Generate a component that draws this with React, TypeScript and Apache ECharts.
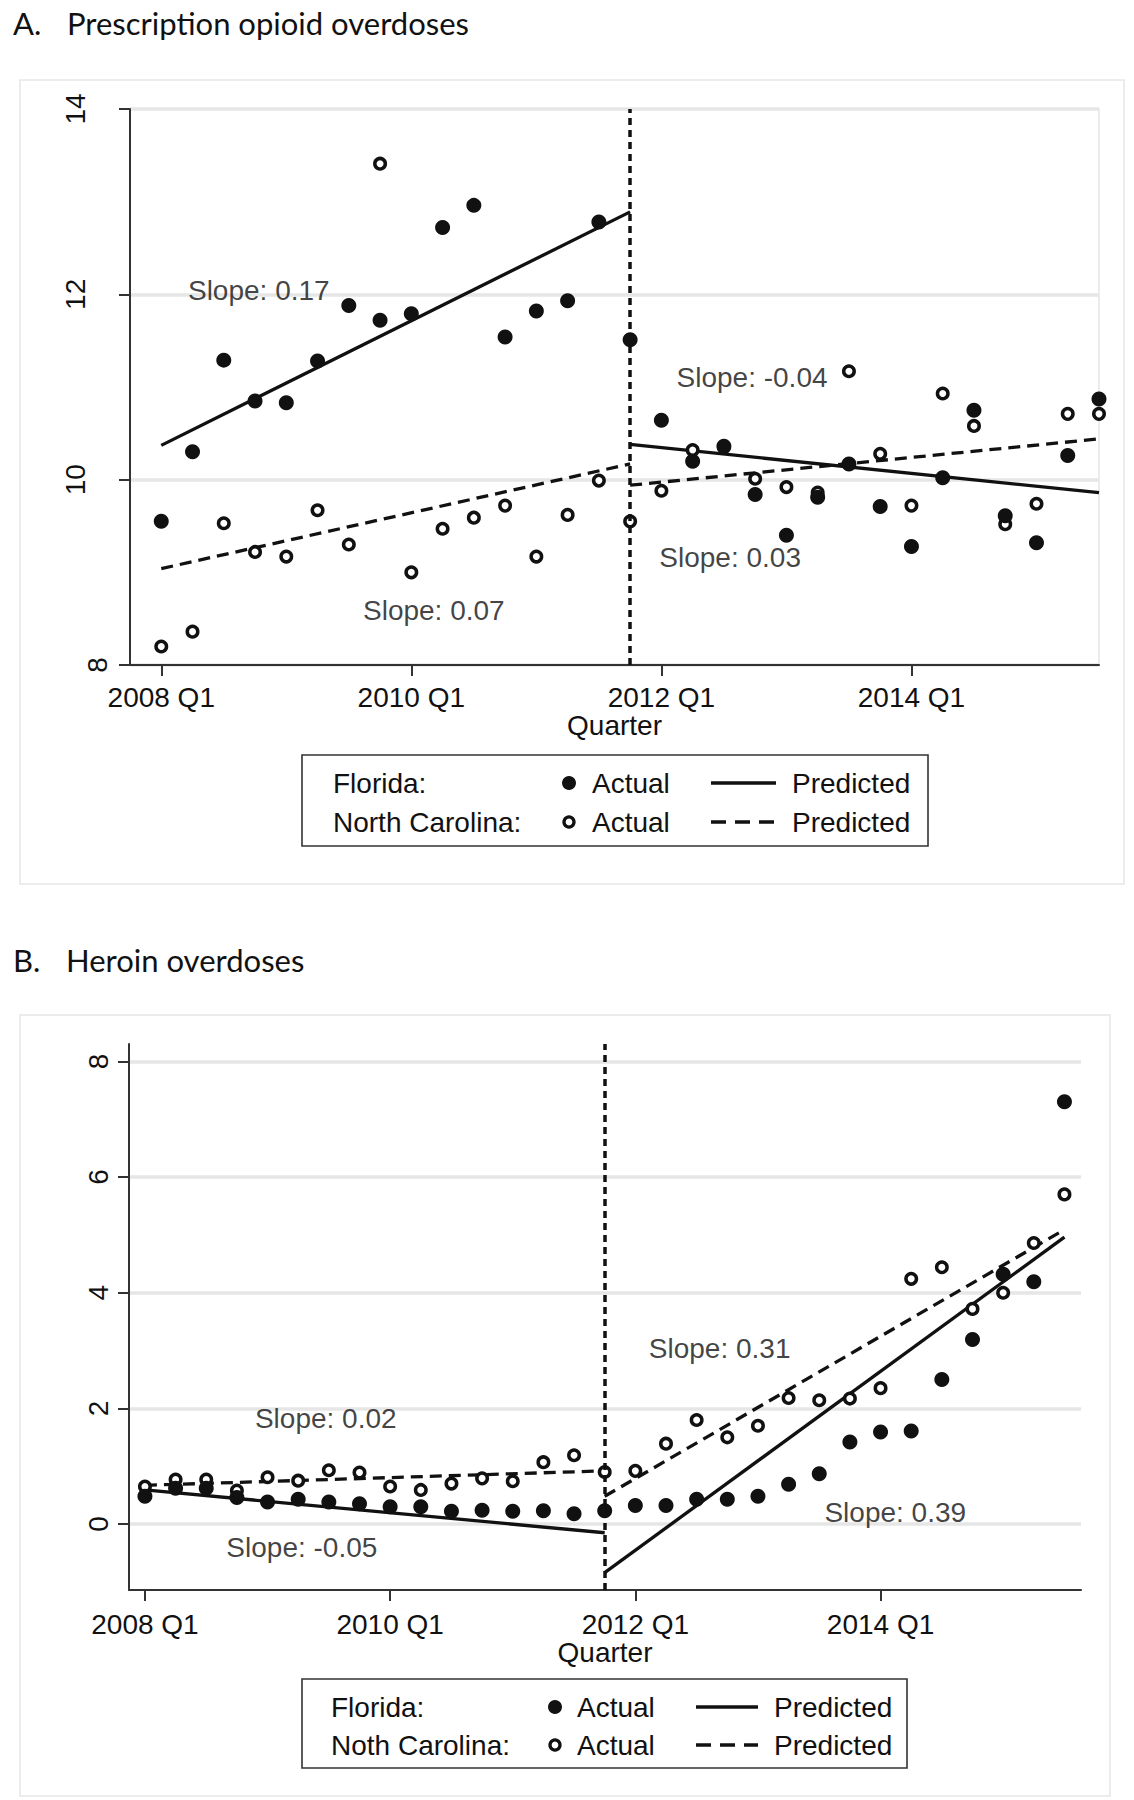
import React, { useEffect, useRef } from "react";
import * as echarts from "echarts";

const FONT = "Liberation Sans";
const TITLE_FONT = "Lato";
const INK = "#111111";
const FS = 28;

const quarters = [
  "2008 Q1", "2008 Q2", "2008 Q3", "2008 Q4",
  "2009 Q1", "2009 Q2", "2009 Q3", "2009 Q4",
  "2010 Q1", "2010 Q2", "2010 Q3", "2010 Q4",
  "2011 Q1", "2011 Q2", "2011 Q3", "2011 Q4",
  "2012 Q1", "2012 Q2", "2012 Q3", "2012 Q4",
  "2013 Q1", "2013 Q2", "2013 Q3", "2013 Q4",
  "2014 Q1", "2014 Q2", "2014 Q3", "2014 Q4",
  "2015 Q1", "2015 Q2", "2015 Q3",
];
const xTickValues = [0, 8, 16, 24];
const breakIndex = 15;
const preSegmentX = [0, 15];
const postSegmentX = [15, 30];

// Panel A: prescription opioid overdoses
const opioidYTicks = [8, 10, 12, 14];
const opioidFlorida = [9.55, 10.3, 11.29, 10.85, 10.83, 11.28, 11.88, 11.72, 11.79, 12.72, 12.96, 11.54, 11.82, 11.93, 12.78, 11.51, 10.64, 10.2, 10.36, 9.84, 9.4, 9.81, 10.17, 9.71, 9.28, 10.02, 10.75, 9.61, 9.32, 10.26, 10.87];
const opioidNC = [8.2, 8.36, 9.53, 9.22, 9.17, 9.67, 9.3, 13.41, 9.0, 9.47, 9.59, 9.72, 9.17, 9.62, 9.99, 9.55, 9.88, 10.32, 10.35, 10.01, 9.92, 9.86, 11.17, 10.28, 9.72, 10.93, 10.58, 9.52, 9.74, 10.71, 10.71];
const opioidFLPredPre = [10.37, 12.89];
const opioidFLPredPost = [10.38, 9.86];
const opioidNCPredPre = [9.04, 10.17];
const opioidNCPredPost = [9.94, 10.44];
const opioidSlopeText = ["Slope: 0.17", "Slope: 0.07", "Slope: -0.04", "Slope: 0.03"];
const opioidSlopeX = [3.12, 8.72, 18.9, 18.2];
const opioidSlopeY = [12.04, 8.59, 11.1, 9.16];

// Panel B: heroin overdoses
const heroinYTicks = [0, 2, 4, 6, 8];
const heroinFlorida = [0.48, 0.62, 0.62, 0.46, 0.38, 0.43, 0.38, 0.35, 0.3, 0.3, 0.22, 0.24, 0.22, 0.23, 0.18, 0.23, 0.32, 0.32, 0.43, 0.43, 0.48, 0.69, 0.87, 1.42, 1.59, 1.61, 2.5, 3.19, 4.32, 4.19, 7.3];
const heroinNC = [0.65, 0.77, 0.77, 0.58, 0.81, 0.75, 0.93, 0.89, 0.65, 0.59, 0.7, 0.79, 0.74, 1.07, 1.19, 0.9, 0.92, 1.39, 1.8, 1.5, 1.7, 2.18, 2.14, 2.17, 2.35, 4.24, 4.44, 3.72, 4.0, 4.86, 5.7];
const heroinFLPredPre = [0.59, -0.15];
const heroinFLPredPost = [-0.84, 4.96];
const heroinNCPredPre = [0.67, 0.92];
const heroinNCPredPost = [0.48, 5.09];
const heroinSlopeText = ["Slope: 0.02", "Slope: -0.05", "Slope: 0.31", "Slope: 0.39"];
const heroinSlopeX = [5.9, 5.12, 18.75, 24.48];
const heroinSlopeY = [1.83, -0.4, 3.03, 0.2];

const legendRowLabelsA = ["Florida:", "North Carolina:"];
const legendRowLabelsB = ["Florida:", "Noth Carolina:"];

const DASH = [12, 7];
const LW = 3.3;

function pairs(xs: number[], ys: number[]) {
  return ys.map((y, i) => [xs[i], y]);
}
function indexed(ys: number[]) {
  return ys.map((y, i) => [i, y]);
}

function panelSeries(
  idx: number,
  fl: number[],
  nc: number[],
  flPre: number[],
  flPost: number[],
  ncPre: number[],
  ncPost: number[],
  slopeText: string[],
  slopeX: number[],
  slopeY: number[]
) {
  const base = { xAxisIndex: idx, yAxisIndex: idx };
  const lineBase = {
    ...base,
    type: "line",
    symbol: "none",
    silent: true,
    z: 3,
  };
  return [
    {
      ...lineBase,
      data: pairs(preSegmentX, flPre),
      lineStyle: { color: INK, width: LW, type: "solid" },
      markLine: {
        silent: true,
        symbol: "none",
        label: { show: false },
        lineStyle: { color: INK, width: 3.5, type: [7, 5] },
        data: [{ xAxis: breakIndex }],
      },
    },
    { ...lineBase, data: pairs(postSegmentX, flPost), lineStyle: { color: INK, width: LW, type: "solid" } },
    { ...lineBase, data: pairs(preSegmentX, ncPre), lineStyle: { color: INK, width: LW, type: DASH } },
    { ...lineBase, data: pairs(postSegmentX, ncPost), lineStyle: { color: INK, width: LW, type: DASH } },
    {
      ...base,
      type: "scatter",
      silent: true,
      z: 4,
      symbol: "circle",
      symbolSize: 10.5,
      itemStyle: { color: "#ffffff", borderColor: INK, borderWidth: 3.5, opacity: 1 },
      data: indexed(nc),
    },
    {
      ...base,
      type: "scatter",
      silent: true,
      z: 5,
      symbol: "circle",
      symbolSize: 15,
      itemStyle: { color: INK, opacity: 1 },
      data: indexed(fl),
    },
    {
      ...base,
      type: "scatter",
      silent: true,
      z: 6,
      symbolSize: 1,
      itemStyle: { color: "rgba(0,0,0,0)" },
      label: {
        show: true,
        position: "inside",
        formatter: "{b}",
        fontSize: FS,
        fontFamily: FONT,
        color: INK,
      },
      data: slopeText.map((t, i) => ({ name: t, value: [slopeX[i], slopeY[i]] })),
    },
  ];
}

function makeX(gridIndex: number, min: number, max: number, margin: number, nameGap: number) {
  return {
    type: "value",
    gridIndex,
    min,
    max,
    name: "Quarter",
    nameLocation: "middle",
    nameGap,
    nameTextStyle: { fontSize: FS, fontFamily: FONT, color: INK },
    axisLine: { show: true, onZero: false, lineStyle: { color: "#333", width: 2 } },
    axisTick: { show: true, length: 11, customValues: xTickValues, lineStyle: { color: "#333", width: 2 } },
    axisLabel: {
      customValues: xTickValues,
      fontSize: FS,
      fontFamily: FONT,
      color: INK,
      margin,
      formatter: (v: number) => quarters[Math.round(v)] ?? "",
    },
    splitLine: { show: false },
  };
}

function makeY(gridIndex: number, min: number, max: number, ticks: number[], margin: number) {
  return {
    type: "value",
    gridIndex,
    min,
    max,
    axisLine: { show: true, onZero: false, lineStyle: { color: "#333", width: 2 } },
    axisTick: { show: true, length: 11, customValues: ticks, lineStyle: { color: "#333", width: 2 } },
    axisLabel: {
      customValues: ticks,
      rotate: 90,
      margin,
      color: INK,
      fontSize: FS,
      fontFamily: FONT,
      formatter: (v: number) => (String(v).length > 1 ? `{w|${v}}` : `{n|${v}}`),
      rich: {
        w: { fontSize: FS, fontFamily: FONT, color: INK, padding: [0, 0, 22, 0] },
        n: { fontSize: FS, fontFamily: FONT, color: INK },
      },
    },
    splitLine: { show: true, lineStyle: { color: "#e6e6e6", width: 3.5 } },
  };
}

function legendGraphics(
  labels: string[],
  box: { x: number; y: number; w: number; h: number },
  cols: { label: number; marker: number; actual: number; line1: number; line2: number; pred: number },
  rows: number[]
) {
  const txt = (text: string, x: number, y: number) => ({
    type: "text",
    x,
    y,
    style: { text, fontSize: FS, fontFamily: FONT, fill: INK, verticalAlign: "middle", align: "left" },
  });
  return [
    {
      type: "rect",
      shape: { x: box.x, y: box.y, width: box.w, height: box.h },
      style: { fill: "#ffffff", stroke: "#333", lineWidth: 1.6 },
    },
    txt(labels[0], cols.label, rows[0]),
    txt(labels[1], cols.label, rows[1]),
    { type: "circle", shape: { cx: cols.marker, cy: rows[0], r: 7 }, style: { fill: INK } },
    { type: "circle", shape: { cx: cols.marker, cy: rows[1], r: 5 }, style: { fill: "#fff", stroke: INK, lineWidth: 3.3 } },
    txt("Actual", cols.actual, rows[0]),
    txt("Actual", cols.actual, rows[1]),
    { type: "line", shape: { x1: cols.line1, y1: rows[0], x2: cols.line2, y2: rows[0] }, style: { stroke: INK, lineWidth: 3.3 } },
    {
      type: "line",
      shape: { x1: cols.line1, y1: rows[1], x2: cols.line2, y2: rows[1] },
      style: { stroke: INK, lineWidth: 3.3, lineDash: [15, 9] },
    },
    txt("Predicted", cols.pred, rows[0]),
    txt("Predicted", cols.pred, rows[1]),
  ];
}

export default function App() {
  const ref = useRef<HTMLDivElement>(null);
  useEffect(() => {
    document.body.style.margin = "0";
    if (!ref.current) return;
    const chart = echarts.init(ref.current, undefined, { renderer: "svg" });
    const option: any = {
      animation: false,
      backgroundColor: "#ffffff",
      grid: [
        { left: 130, top: 109, width: 969, height: 556, show: true, borderColor: "#e6e6e6", borderWidth: 1.5, backgroundColor: "transparent" },
        { left: 129, top: 1044, width: 952, height: 546 },
      ],
      xAxis: [makeX(0, -1, 30, 18, 46), makeX(1, -0.52, 30.54, 20, 48)],
      yAxis: [makeY(0, 8, 14, opioidYTicks, 19), makeY(1, -1.14, 8.3, heroinYTicks, 17)],
      series: [
        ...panelSeries(0, opioidFlorida, opioidNC, opioidFLPredPre, opioidFLPredPost, opioidNCPredPre, opioidNCPredPost, opioidSlopeText, opioidSlopeX, opioidSlopeY),
        ...panelSeries(1, heroinFlorida, heroinNC, heroinFLPredPre, heroinFLPredPost, heroinNCPredPre, heroinNCPredPost, heroinSlopeText, heroinSlopeX, heroinSlopeY),
      ],
      graphic: [
        { type: "rect", z: -10, shape: { x: 20, y: 80, width: 1104, height: 804 }, style: { fill: "none", stroke: "#e6e6e6", lineWidth: 1.5 } },
        { type: "rect", z: -10, shape: { x: 20, y: 1015, width: 1090, height: 781 }, style: { fill: "none", stroke: "#e6e6e6", lineWidth: 1.5 } },
        { type: "text", x: 13, y: 23, style: { text: "A.", fontSize: 31, fontFamily: TITLE_FONT, fill: INK, verticalAlign: "middle" } },
        { type: "text", x: 67, y: 23, style: { text: "Prescription opioid overdoses", fontSize: 31, fontFamily: TITLE_FONT, fill: INK, verticalAlign: "middle" } },
        { type: "text", x: 13, y: 960, style: { text: "B.", fontSize: 31, fontFamily: TITLE_FONT, fill: INK, verticalAlign: "middle" } },
        { type: "text", x: 66, y: 960, style: { text: "Heroin overdoses", fontSize: 31, fontFamily: TITLE_FONT, fill: INK, verticalAlign: "middle" } },
        ...legendGraphics(
          legendRowLabelsA,
          { x: 302, y: 755, w: 626, h: 91 },
          { label: 333, marker: 569, actual: 592, line1: 711, line2: 776, pred: 792 },
          [783, 822]
        ),
        ...legendGraphics(
          legendRowLabelsB,
          { x: 302, y: 1679, w: 605, h: 89 },
          { label: 331, marker: 555, actual: 577, line1: 696, line2: 758, pred: 774 },
          [1707, 1745]
        ),
      ],
    };
    chart.setOption(option);
    return () => chart.dispose();
  }, []);
  return <div ref={ref} style={{ width: 1134, height: 1800 }} />;
}
